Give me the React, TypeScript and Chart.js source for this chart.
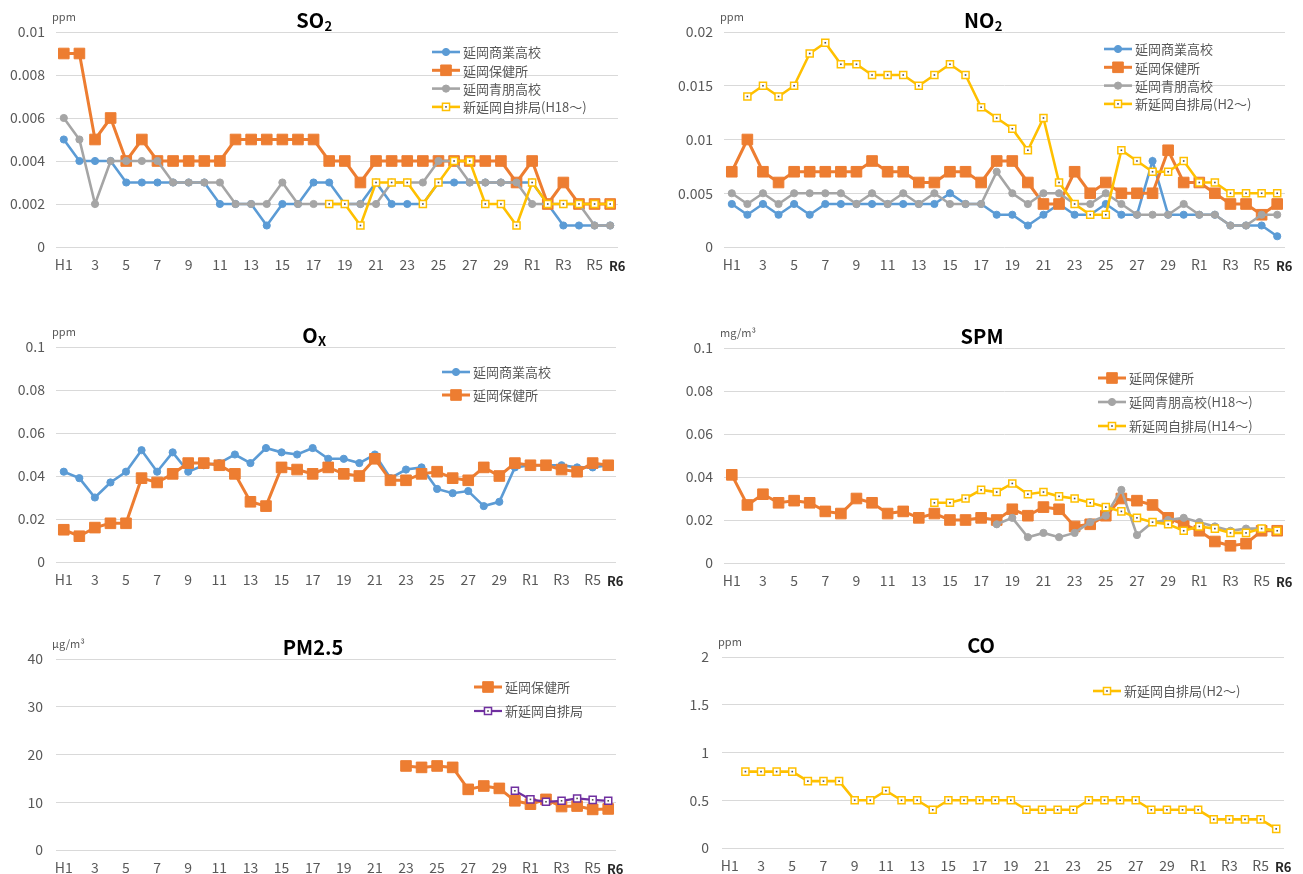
import React, { useEffect, useRef } from 'react';
import { Chart, registerables } from 'chart.js';

Chart.register(...registerables);

const FONT = '"Noto Sans CJK JP", "Noto Sans", sans-serif';

// ---- categories (fiscal years H1..H30, R1..R6) ----
const years = ['H1', '2', '3', '4', '5', '6', '7', '8', '9', '10', '11', '12', '13', '14', '15', '16', '17', '18', '19', '20',
  '21', '22', '23', '24', '25', '26', '27', '28', '29', '30', 'R1', 'R2', 'R3', 'R4', 'R5', 'R6'];

const _ = null;

// ---- SO2 (ppm) ----
const so2Shogyo = [0.005, 0.004, 0.004, 0.004, 0.003, 0.003, 0.003, 0.003, 0.003, 0.003,
  0.002, 0.002, 0.002, 0.001, 0.002, 0.002, 0.003, 0.003, 0.002, 0.002,
  0.003, 0.002, 0.002, 0.002, 0.003, 0.003, 0.003, 0.003, 0.003, 0.003,
  0.003, 0.002, 0.001, 0.001, 0.001, 0.001];
const so2Hokenjo = [0.009, 0.009, 0.005, 0.006, 0.004, 0.005, 0.004, 0.004, 0.004, 0.004,
  0.004, 0.005, 0.005, 0.005, 0.005, 0.005, 0.005, 0.004, 0.004, 0.003,
  0.004, 0.004, 0.004, 0.004, 0.004, 0.004, 0.004, 0.004, 0.004, 0.003,
  0.004, 0.002, 0.003, 0.002, 0.002, 0.002];
const so2Seiho = [0.006, 0.005, 0.002, 0.004, 0.004, 0.004, 0.004, 0.003, 0.003, 0.003,
  0.003, 0.002, 0.002, 0.002, 0.003, 0.002, 0.002, 0.002, 0.002, 0.002,
  0.002, 0.003, 0.003, 0.003, 0.004, 0.004, 0.003, 0.003, 0.003, 0.003,
  0.002, 0.002, 0.002, 0.002, 0.001, 0.001];
const so2Jihai = [_, _, _, _, _, _, _, _, _, _,
  _, _, _, _, _, _, _, 0.002, 0.002, 0.001,
  0.003, 0.003, 0.003, 0.002, 0.003, 0.004, 0.004, 0.002, 0.002, 0.001,
  0.003, 0.002, 0.002, 0.002, 0.002, 0.002];

// ---- NO2 (ppm) ----
const no2Shogyo = [0.004, 0.003, 0.004, 0.003, 0.004, 0.003, 0.004, 0.004, 0.004, 0.004,
  0.004, 0.004, 0.004, 0.004, 0.005, 0.004, 0.004, 0.003, 0.003, 0.002,
  0.003, 0.004, 0.003, 0.003, 0.004, 0.003, 0.003, 0.008, 0.003, 0.003,
  0.003, 0.003, 0.002, 0.002, 0.002, 0.001];
const no2Hokenjo = [0.007, 0.010, 0.007, 0.006, 0.007, 0.007, 0.007, 0.007, 0.007, 0.008,
  0.007, 0.007, 0.006, 0.006, 0.007, 0.007, 0.006, 0.008, 0.008, 0.006,
  0.004, 0.004, 0.007, 0.005, 0.006, 0.005, 0.005, 0.005, 0.009, 0.006,
  0.006, 0.005, 0.004, 0.004, 0.003, 0.004];
const no2Seiho = [0.005, 0.004, 0.005, 0.004, 0.005, 0.005, 0.005, 0.005, 0.004, 0.005,
  0.004, 0.005, 0.004, 0.005, 0.004, 0.004, 0.004, 0.007, 0.005, 0.004,
  0.005, 0.005, 0.004, 0.004, 0.005, 0.004, 0.003, 0.003, 0.003, 0.004,
  0.003, 0.003, 0.002, 0.002, 0.003, 0.003];
const no2Jihai = [_, 0.014, 0.015, 0.014, 0.015, 0.018, 0.019, 0.017, 0.017, 0.016,
  0.016, 0.016, 0.015, 0.016, 0.017, 0.016, 0.013, 0.012, 0.011, 0.009,
  0.012, 0.006, 0.004, 0.003, 0.003, 0.009, 0.008, 0.007, 0.007, 0.008,
  0.006, 0.006, 0.005, 0.005, 0.005, 0.005];

// ---- Ox (ppm) ----
const oxShogyo = [0.042, 0.039, 0.030, 0.037, 0.042, 0.052, 0.042, 0.051, 0.042, 0.045,
  0.046, 0.050, 0.046, 0.053, 0.051, 0.050, 0.053, 0.048, 0.048, 0.046,
  0.050, 0.039, 0.043, 0.044, 0.034, 0.032, 0.033, 0.026, 0.028, 0.044,
  0.045, 0.045, 0.045, 0.044, 0.044, 0.045];
const oxHokenjo = [0.015, 0.012, 0.016, 0.018, 0.018, 0.039, 0.037, 0.041, 0.046, 0.046,
  0.045, 0.041, 0.028, 0.026, 0.044, 0.043, 0.041, 0.044, 0.041, 0.040,
  0.048, 0.038, 0.038, 0.041, 0.042, 0.039, 0.038, 0.044, 0.040, 0.046,
  0.045, 0.045, 0.043, 0.042, 0.046, 0.045];

// ---- SPM (mg/m3) ----
const spmHokenjo = [0.041, 0.027, 0.032, 0.028, 0.029, 0.028, 0.024, 0.023, 0.030, 0.028,
  0.023, 0.024, 0.021, 0.023, 0.020, 0.020, 0.021, 0.020, 0.025, 0.022,
  0.026, 0.025, 0.017, 0.018, 0.022, 0.030, 0.029, 0.027, 0.021, 0.018,
  0.015, 0.010, 0.008, 0.009, 0.015, 0.015];
const spmSeiho = [_, _, _, _, _, _, _, _, _, _,
  _, _, _, _, _, _, _, 0.018, 0.021, 0.012,
  0.014, 0.012, 0.014, 0.019, 0.022, 0.034, 0.013, 0.019, 0.020, 0.021,
  0.019, 0.017, 0.015, 0.016, 0.016, 0.015];
const spmJihai = [_, _, _, _, _, _, _, _, _, _,
  _, _, _, 0.028, 0.028, 0.030, 0.034, 0.033, 0.037, 0.032,
  0.033, 0.031, 0.030, 0.028, 0.026, 0.024, 0.021, 0.019, 0.018, 0.015,
  0.017, 0.016, 0.014, 0.014, 0.016, 0.015];

// ---- PM2.5 (μg/m3) ----
const pmHokenjo = [_, _, _, _, _, _, _, _, _, _,
  _, _, _, _, _, _, _, _, _, _,
  _, _, 17.6, 17.3, 17.6, 17.3, 12.7, 13.4, 12.9, 10.3,
  9.6, 10.6, 9.1, 9.2, 8.5, 8.6];
const pmJihai = [_, _, _, _, _, _, _, _, _, _,
  _, _, _, _, _, _, _, _, _, _,
  _, _, _, _, _, _, _, _, _, 12.4,
  10.6, 10.1, 10.3, 10.8, 10.5, 10.3];

// ---- CO (ppm) ----
const coJihai = [_, 0.8, 0.8, 0.8, 0.8, 0.7, 0.7, 0.7, 0.5, 0.5,
  0.6, 0.5, 0.5, 0.4, 0.5, 0.5, 0.5, 0.5, 0.5, 0.4,
  0.4, 0.4, 0.4, 0.5, 0.5, 0.5, 0.5, 0.4, 0.4, 0.4,
  0.4, 0.3, 0.3, 0.3, 0.3, 0.2];

const SHOGYO = '延岡商業高校';
const HOKENJO = '延岡保健所';
const SEIHO = '延岡青朋高校';
const JIHAI = '新延岡自排局';

const STYLES: any = {
  blue: { color: '#5B9BD5', shape: 'circle', radius: 3.6, lineWidth: 2.6, fill: '#5B9BD5', dot: false },
  orange: { color: '#ED7D31', shape: 'rect', radius: 7.5, lineWidth: 3, fill: '#ED7D31', dot: false },
  grey: { color: '#A5A5A5', shape: 'circle', radius: 3.6, lineWidth: 2.6, fill: '#A5A5A5', dot: false },
  yellow: { color: '#FFC000', shape: 'rect', radius: 5, lineWidth: 2.6, fill: '#FFFFFF', dot: true },
  purple: { color: '#7030A0', shape: 'rect', radius: 5, lineWidth: 2.2, fill: '#FFFFFF', dot: true },
};

const panels = [
  {
    id: 'so2', title: 'SO', sub: '2', unit: 'ppm', left: 0, top: 0, width: 640, height: 282,
    areaLeft: 56, areaRight: 618, titleX: 314, yMax: 0.01, yStep: 0.002, yPad: 11,
    legend: { x: 432, y: 52, gap: 18.3 },
    series: [
      { label: SHOGYO, data: so2Shogyo, kind: 'blue' },
      { label: HOKENJO, data: so2Hokenjo, kind: 'orange' },
      { label: SEIHO, data: so2Seiho, kind: 'grey' },
      { label: JIHAI + '(H18～)', data: so2Jihai, kind: 'yellow' },
    ],
  },
  {
    id: 'no2', title: 'NO', sub: '2', unit: 'ppm', left: 650, top: 0, width: 653, height: 282,
    areaLeft: 74, areaRight: 635, titleX: 333, yMax: 0.02, yStep: 0.005, yPad: 11,
    legend: { x: 454, y: 49, gap: 18.3 },
    series: [
      { label: SHOGYO, data: no2Shogyo, kind: 'blue' },
      { label: HOKENJO, data: no2Hokenjo, kind: 'orange' },
      { label: SEIHO, data: no2Seiho, kind: 'grey' },
      { label: JIHAI + '(H2～)', data: no2Jihai, kind: 'yellow' },
    ],
  },
  {
    id: 'ox', title: 'O', sub: 'X', unit: 'ppm', left: 0, top: 315, width: 640, height: 282,
    areaLeft: 56, areaRight: 616, titleX: 314, yMax: 0.1, yStep: 0.02, yPad: 11,
    legend: { x: 442, y: 57, gap: 23 },
    series: [
      { label: SHOGYO, data: oxShogyo, kind: 'blue' },
      { label: HOKENJO, data: oxHokenjo, kind: 'orange' },
    ],
  },
  {
    id: 'spm', title: 'SPM', sub: '', unit: 'mg/m³', left: 650, top: 316, width: 653, height: 282,
    areaLeft: 74, areaRight: 635, titleX: 332, yMax: 0.1, yStep: 0.02, yPad: 11,
    legend: { x: 448, y: 62, gap: 24 },
    series: [
      { label: HOKENJO, data: spmHokenjo, kind: 'orange' },
      { label: SEIHO + '(H18～)', data: spmSeiho, kind: 'grey' },
      { label: JIHAI + '(H14～)', data: spmJihai, kind: 'yellow' },
    ],
  },
  {
    id: 'pm25', title: 'PM2.5', sub: '', unit: 'μg/m³', left: 0, top: 627, width: 640, height: 258,
    areaLeft: 56, areaRight: 616, titleX: 313, yMax: 40, yStep: 10, yPad: 13,
    legend: { x: 474, y: 60, gap: 24 },
    series: [
      { label: HOKENJO, data: pmHokenjo, kind: 'orange' },
      { label: JIHAI, data: pmJihai, kind: 'purple' },
    ],
  },
  {
    id: 'co', title: 'CO', sub: '', unit: 'ppm', left: 650, top: 625, width: 653, height: 258,
    areaLeft: 72, areaRight: 634, titleX: 331, yMax: 2, yStep: 0.5, yPad: 13,
    legend: { x: 443, y: 66, gap: 24 },
    series: [
      { label: JIHAI + '(H2～)', data: coJihai, kind: 'yellow' },
    ],
  },
];

const LAST = years.length - 1;

function drawMarker(ctx: CanvasRenderingContext2D, st: any, x: number, y: number) {
  ctx.save();
  ctx.fillStyle = st.fill;
  ctx.strokeStyle = st.color;
  ctx.lineWidth = st.dot ? 1.5 : 1;
  ctx.beginPath();
  if (st.shape === 'circle') {
    ctx.arc(x, y, st.radius, 0, Math.PI * 2);
  } else {
    const s = Math.SQRT1_2 * st.radius;
    ctx.rect(x - s, y - s, 2 * s, 2 * s);
  }
  ctx.fill();
  ctx.stroke();
  if (st.dot) {
    ctx.fillStyle = '#505050';
    ctx.fillRect(x - 0.8, y - 0.8, 1.6, 1.6);
  }
  ctx.restore();
}

function decorPlugin(p: any) {
  return {
    id: 'decor_' + p.id,
    afterDatasetsDraw(chart: any) {
      const ctx = chart.ctx as CanvasRenderingContext2D;
      p.series.forEach((s: any, i: number) => {
        const st = STYLES[s.kind];
        if (!st.dot) return;
        const meta = chart.getDatasetMeta(i);
        ctx.save();
        ctx.fillStyle = '#505050';
        meta.data.forEach((pt: any) => {
          if (pt.skip) return;
          ctx.fillRect(pt.x - 0.8, pt.y - 0.8, 1.6, 1.6);
        });
        ctx.restore();
      });
    },
    afterDraw(chart: any) {
      const ctx = chart.ctx as CanvasRenderingContext2D;
      const area = chart.chartArea;
      ctx.save();
      // title
      const mainFont = `bold 20px ${FONT}`;
      const subFont = `bold 13px ${FONT}`;
      ctx.font = mainFont;
      const w1 = ctx.measureText(p.title).width;
      ctx.font = subFont;
      const w2 = p.sub ? ctx.measureText(p.sub).width : 0;
      const startX = p.titleX - (w1 + w2) / 2;
      const ty = area.top - 12;
      ctx.fillStyle = '#000000';
      ctx.textBaseline = 'middle';
      ctx.textAlign = 'left';
      ctx.font = mainFont;
      ctx.fillText(p.title, startX, ty);
      if (p.sub) {
        ctx.font = subFont;
        ctx.fillText(p.sub, startX + w1 + 0.5, ty + 6);
      }
      // unit
      ctx.font = `11px ${FONT}`;
      ctx.fillStyle = '#595959';
      ctx.fillText(p.unit, area.left - 4, area.top - 15);
      // last category label, nudged right as in the original
      const xs = chart.scales.x;
      ctx.font = `bold 13px ${FONT}`;
      ctx.fillStyle = '#262626';
      ctx.textAlign = 'center';
      ctx.fillText(years[LAST], xs.getPixelForValue(LAST) + 7, area.bottom + 19);
      // legend
      const lx = p.legend.x;
      p.series.forEach((s: any, i: number) => {
        const st = STYLES[s.kind];
        const y = p.legend.y + i * p.legend.gap;
        ctx.strokeStyle = st.color;
        ctx.lineWidth = st.lineWidth;
        ctx.beginPath();
        ctx.moveTo(lx, y);
        ctx.lineTo(lx + 28, y);
        ctx.stroke();
        drawMarker(ctx, st, lx + 14, y);
        ctx.fillStyle = '#595959';
        ctx.font = `13px ${FONT}`;
        ctx.textBaseline = 'middle';
        ctx.textAlign = 'left';
        ctx.fillText(s.label, lx + 31, y + 0.5);
      });
      ctx.restore();
    },
  };
}

function Panel({ p }: { p: any }) {
  const ref = useRef<HTMLCanvasElement | null>(null);
  useEffect(() => {
    const canvas = ref.current;
    if (!canvas) return;
    const n = p.series.length;
    const datasets = p.series.map((s: any, i: number) => {
      const st = STYLES[s.kind];
      return {
        label: s.label,
        data: s.data,
        borderColor: st.color,
        backgroundColor: st.fill,
        borderWidth: st.lineWidth,
        pointStyle: st.shape === 'circle' ? 'circle' : 'rect',
        pointRadius: st.radius,
        pointHoverRadius: st.radius,
        pointBackgroundColor: st.fill,
        pointBorderColor: st.color,
        pointBorderWidth: st.dot ? 1.5 : 1,
        tension: 0,
        fill: false,
        spanGaps: false,
        order: n - i,
      };
    });
    const chart = new Chart(canvas, {
      type: 'line',
      data: { labels: years, datasets },
      options: {
        animation: false,
        responsive: false,
        devicePixelRatio: 1,
        events: [],
        layout: { padding: { top: 32, left: 0, right: p.width - p.areaRight, bottom: 0 } },
        plugins: {
          legend: { display: false },
          title: { display: false },
          tooltip: { enabled: false },
        },
        scales: {
          x: {
            type: 'category',
            offset: true,
            grid: { display: false, drawTicks: false },
            border: { display: false },
            ticks: {
              autoSkip: false,
              maxRotation: 0,
              minRotation: 0,
              padding: 9,
              color: '#595959',
              font: { family: FONT, size: 14 },
              callback: (_v: any, i: number) => (i % 2 === 0 && i !== LAST ? years[i] : ''),
            },
            afterFit: (scale: any) => { scale.height = 35; },
          },
          y: {
            min: 0,
            max: p.yMax,
            grid: { color: '#D9D9D9', lineWidth: 1, drawTicks: false },
            border: { display: false },
            ticks: {
              stepSize: p.yStep,
              padding: p.yPad,
              color: '#595959',
              font: { family: FONT, size: 14 },
              callback: (v: any) => String(parseFloat(Number(v).toFixed(6))),
            },
            afterFit: (scale: any) => { scale.width = p.areaLeft; },
          },
        },
      },
      plugins: [decorPlugin(p)],
    } as any);
    return () => chart.destroy();
  }, [p]);
  return (
    <div style={{ position: 'absolute', left: p.left, top: p.top, width: p.width, height: p.height }}>
      <canvas ref={ref} width={p.width} height={p.height} style={{ width: p.width, height: p.height, display: 'block' }} />
    </div>
  );
}

export default function App() {
  return (
    <div style={{ position: 'absolute', left: 0, top: 0, width: 1303, height: 874, overflow: 'hidden', background: '#ffffff' }}>
      {panels.map((p) => <Panel key={p.id} p={p} />)}
    </div>
  );
}
